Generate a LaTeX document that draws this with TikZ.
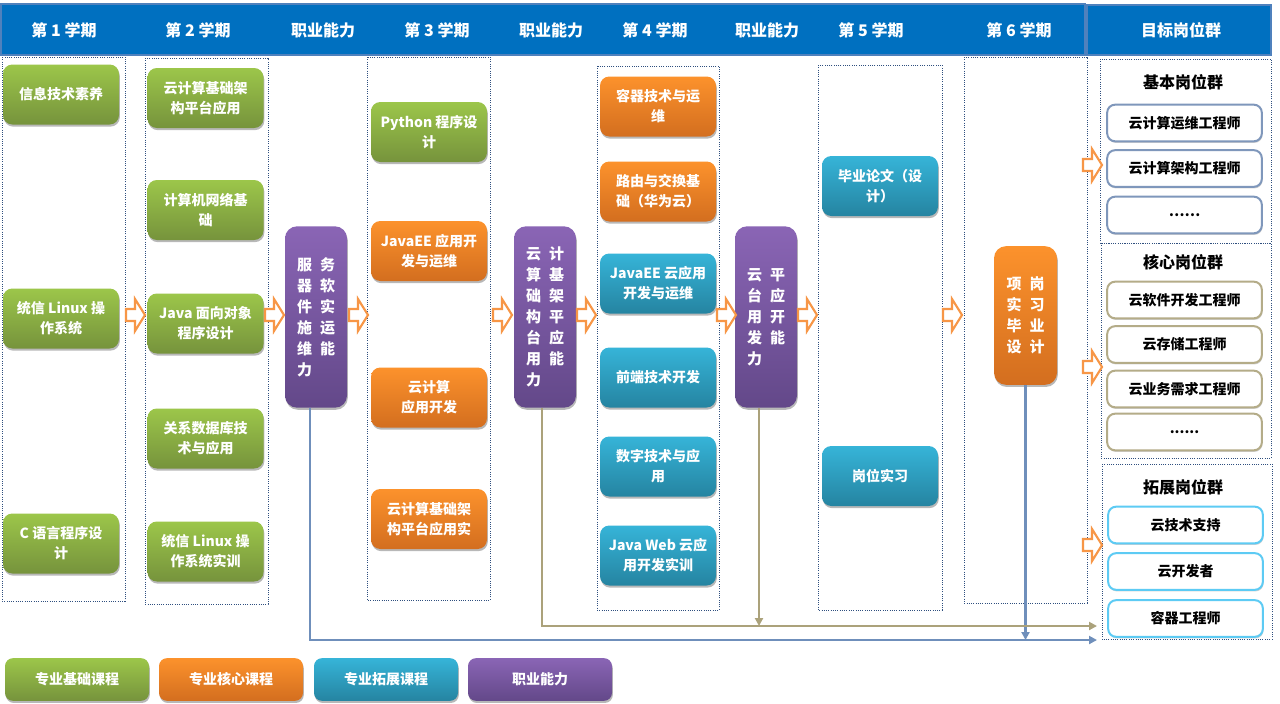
\documentclass[tikz,border=0pt]{standalone}
\usepackage{fontspec}
\setmainfont{Noto Sans CJK SC}
\usetikzlibrary{shadows,arrows.meta}
\definecolor{gtop}{HTML}{9CC64A}
\definecolor{gbot}{HTML}{76933C}
\definecolor{otop}{HTML}{FC922C}
\definecolor{obot}{HTML}{D36E1F}
\definecolor{ttop}{HTML}{36B4D8}
\definecolor{tbot}{HTML}{2584A1}
\definecolor{ptop}{HTML}{8A65B5}
\definecolor{pbot}{HTML}{634889}
\definecolor{hdr}{HTML}{0070C0}
\definecolor{hdrb}{HTML}{4F81BD}
\definecolor{dotc}{HTML}{2F4F7F}
\definecolor{arrc}{HTML}{F79646}
\definecolor{blinec}{HTML}{6F8FBB}
\definecolor{tlinec}{HTML}{ABA27B}
\definecolor{rbA}{HTML}{7F97BB}
\definecolor{rbB}{HTML}{B4AC88}
\definecolor{rbC}{HTML}{5DCBF4}
\newcommand\vpair[2]{#1\hspace{6pt}#2}
\begin{document}
\begin{tikzpicture}[x=0.75pt,y=-0.75pt,
 shad/.style={drop shadow={shadow xshift=0.6pt,shadow yshift=-1.6pt,opacity=0.28,fill=black}},
 lshad/.style={drop shadow={shadow xshift=0.5pt,shadow yshift=-1.2pt,opacity=0.18,fill=black}},
 cbox/.style={shad, rounded corners=7pt, minimum width=87pt, minimum height=45pt, inner sep=1pt, align=center, text=white, font=\bfseries\fontsize{10.5}{15}\selectfont},
 gbox/.style={cbox, top color=gtop, bottom color=gbot},
 obox/.style={cbox, top color=otop, bottom color=obot},
 tbox/.style={cbox, top color=ttop, bottom color=tbot},
 pbox/.style={shad, rounded corners=9pt, minimum width=46.5pt, minimum height=136pt, top color=ptop, bottom color=pbot, align=left, text=white, inner sep=1pt, font=\bfseries\fontsize{11.25}{15.75}\selectfont},
 xbox/.style={pbox, top color=otop, bottom color=obot, minimum width=47.25pt, minimum height=104pt},
 rbox/.style={lshad, rounded corners=6pt, fill=white, line width=1.5pt, minimum width=116pt, minimum height=27.5pt, inner sep=1pt, font=\bfseries\fontsize{10.5}{12}\selectfont},
 rtitle/.style={font=\bfseries\fontsize{12}{14}\selectfont},
 lbox/.style={shad, rounded corners=6pt, minimum width=108pt, minimum height=32pt, inner sep=1pt, text=white, font=\bfseries\fontsize{10.5}{12}\selectfont},
 hdrbox/.style={fill=hdr, draw=hdrb, line width=1.6pt},
 htext/.style={text=white, font=\bfseries\fontsize{12}{14}\selectfont},
 dotbox/.style={draw=dotc, densely dotted, line width=0.7pt},
 bline/.style={draw=blinec, line width=2pt},
 tline/.style={draw=tlinec, line width=2pt},
 tip/.style={-{Triangle[length=6pt,width=6pt]}},
 harrow/.pic={\draw[draw=arrc, fill=white, line width=1.6pt, line join=miter] (0,-6) -- (9,-6) -- (9,-16) -- (19,0) -- (9,16) -- (9,6) -- (0,6) -- cycle;}
]
\useasboundingbox (0,0) rectangle (1280,703);
\fill[white] (0,0) rectangle (1280,703);

% header
\draw[hdrbox] (1,4) rectangle (1085,55);
\draw[hdrbox] (1087,5) rectangle (1271,55);
\node[htext] (h1) at (64,30) {第 1 学期};
\node[htext] (h2) at (198,30) {第 2 学期};
\node[htext] (h3) at (323,30) {职业能力};
\node[htext] (h4) at (437,30) {第 3 学期};
\node[htext] (h5) at (551,30) {职业能力};
\node[htext] (h6) at (655,30) {第 4 学期};
\node[htext] (h7) at (767,30) {职业能力};
\node[htext] (h8) at (871,30) {第 5 学期};
\node[htext] (h9) at (1019,30) {第 6 学期};
\node[htext] (h10) at (1181,30) {目标岗位群};

% dotted column frames
\draw[dotbox] (2,57) rectangle (125,601);
\draw[dotbox] (145,58) rectangle (268,604);
\draw[dotbox] (367,57) rectangle (490,600);
\draw[dotbox] (597,66) rectangle (719,610);
\draw[dotbox] (818,65) rectangle (942,610);
\draw[dotbox] (964,57) rectangle (1087,603);
\draw[dotbox] (1100,59) rectangle (1271,243);
\draw[dotbox] (1101,243) rectangle (1271,458);
\draw[dotbox] (1102,464) rectangle (1272,639);

% connector lines
\coordinate (bend) at (1097,640);
\coordinate (tend) at (1097,626);

% column 1
\node[gbox] (c11) at (61,94.5) {信息技术素养};
\node[gbox] (c12) at (61,318.5) {统信 Linux 操\\作系统};
\node[gbox] (c13) at (61,543.5) {C 语言程序设\\计};
% column 2
\node[gbox] (c21) at (205.5,98) {云计算基础架\\构平台应用};
\node[gbox] (c22) at (205.5,210) {计算机网络基\\础};
\node[gbox] (c23) at (205.5,323.5) {Java 面向对象\\程序设计};
\node[gbox] (c24) at (205.5,438.5) {关系数据库技\\术与应用};
\node[gbox] (c25) at (205.5,551.5) {统信 Linux 操\\作系统实训};
% ability 1
\node[pbox] (p1) at (316,317) {\vpair{服}{务}\\\vpair{器}{软}\\\vpair{件}{实}\\\vpair{施}{运}\\\vpair{维}{能}\\力};
% column 3
\node[gbox] (c31) at (429,132) {Python 程序设\\计};
\node[obox] (c32) at (429,251) {JavaEE 应用开\\发与运维};
\node[obox] (c33) at (429,397.5) {云计算\\应用开发};
\node[obox] (c34) at (429,519) {云计算基础架\\构平台应用实};
% ability 2
\node[pbox] (p2) at (545,317) {\vpair{云}{计}\\\vpair{算}{基}\\\vpair{础}{架}\\\vpair{构}{平}\\\vpair{台}{应}\\\vpair{用}{能}\\力};
% column 4
\node[obox] (c41) at (658,106.5) {容器技术与运\\维};
\node[obox] (c42) at (658,191.5) {路由与交换基\\础（华为云）};
\node[tbox] (c43) at (658,283.5) {JavaEE 云应用\\开发与运维};
\node[tbox] (c44) at (658,377.5) {前端技术开发};
\node[tbox] (c45) at (658,466.5) {数字技术与应\\用};
\node[tbox] (c46) at (658,555.5) {Java Web 云应\\用开发实训};
% ability 3
\node[pbox] (p3) at (766,317) {\vpair{云}{平}\\\vpair{台}{应}\\\vpair{用}{开}\\\vpair{发}{能}\\力};
% column 5
\node[tbox] (c51) at (880,186) {毕业论文（设\\计）};
\node[tbox] (c52) at (880,476) {岗位实习};
% column 6
\node[xbox] (p4) at (1025.5,315.5) {\vpair{项}{岗}\\\vpair{实}{习}\\\vpair{毕}{业}\\\vpair{设}{计}};

% lines
\draw[bline,tip] ([xshift=-4.5pt]p1.south) |- (bend);
\draw[bline,tip] (p4.south) -- (p4.south |- bend);
\draw[tline,tip] ([xshift=-2.25pt]p2.south) |- (tend);
\draw[tline,tip] ([xshift=-5.25pt]p3.south) -- ([xshift=-5.25pt]p3.south |- tend);

% target posts
\node[rtitle] (g1) at (1183,82) {基本岗位群};
\node[rbox,draw=rbA] (r11) at (1184.5,123) {云计算运维工程师};
\node[rbox,draw=rbA] (r12) at (1184.5,168.5) {云计算架构工程师};
\node[rbox,draw=rbA] (r13) at (1184.5,215) {……};
\node[rtitle] (g2) at (1183,262) {核心岗位群};
\node[rbox,draw=rbB] (r21) at (1184.5,300) {云软件开发工程师};
\node[rbox,draw=rbB] (r22) at (1184.5,344.5) {云存储工程师};
\node[rbox,draw=rbB] (r23) at (1184.5,389) {云业务需求工程师};
\node[rbox,draw=rbB] (r24) at (1184.5,432) {......};
\node[rtitle] (g3) at (1183,487) {拓展岗位群};
\node[rbox,draw=rbC] (r31) at (1185.5,525) {云技术支持};
\node[rbox,draw=rbC] (r32) at (1185.5,571.5) {云开发者};
\node[rbox,draw=rbC] (r33) at (1185.5,618.5) {容器工程师};

% hollow arrows
\foreach \ax in {126,265,349,493,577,717,798,943}{\pic at (\ax,315) {harrow};}
\pic at (1083,165) {harrow};
\pic at (1083,367) {harrow};
\pic at (1083,545) {harrow};

% legend
\node[lbox, top color=gtop, bottom color=gbot] (l1) at (77,679.5) {专业基础课程};
\node[lbox, top color=otop, bottom color=obot] (l2) at (231,679.5) {专业核心课程};
\node[lbox, top color=ttop, bottom color=tbot] (l3) at (386,679.5) {专业拓展课程};
\node[lbox, top color=ptop, bottom color=pbot] (l4) at (540,679.5) {职业能力};
\end{tikzpicture}
\end{document}
